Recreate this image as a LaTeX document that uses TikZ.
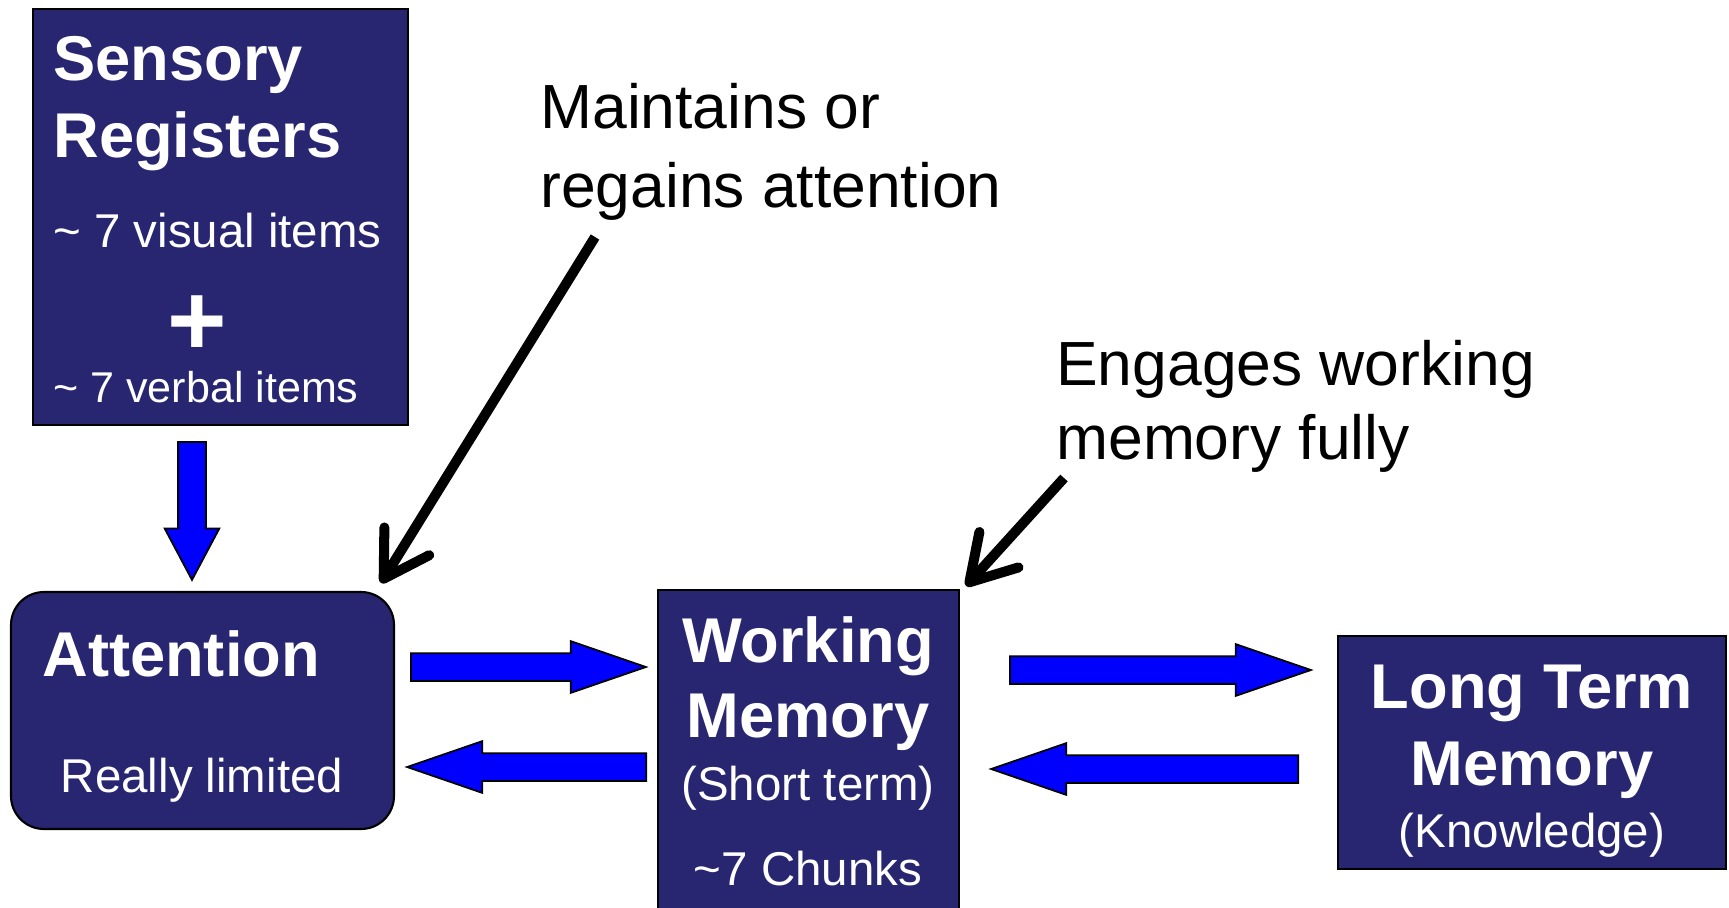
\documentclass[tikz,border=0pt]{standalone}
\usepackage{fontspec}
\setmainfont{Liberation Sans}
\usetikzlibrary{shapes.arrows,arrows.meta,calc}
\definecolor{boxnavy}{RGB}{40,38,112}
\definecolor{flowblue}{RGB}{0,0,255}
\tikzset{
  membox/.style={draw=black, line width=1.2pt, fill=boxnavy, inner sep=0pt},
  title/.style={text=white, font=\fontsize{36}{42}\selectfont\bfseries, inner sep=0pt},
  note/.style={text=white, font=\fontsize{27}{32}\selectfont, inner sep=0pt},
  remark/.style={text=black, font=\fontsize{35.5}{41}\selectfont, inner sep=0pt, anchor=base west},
  flow/.style={single arrow, draw=black, line width=1pt, fill=flowblue, anchor=tail,
    inner sep=2.6mm, single arrow head extend=2.4mm,
    single arrow tip angle=38, single arrow head indent=0pt},
  pointer/.style={line width=5.7pt, -{Straight Barb[length=25pt, width=30pt, round]}}
}
\begin{document}
\begin{tikzpicture}[x=0.2mm, y=-0.2mm]
\useasboundingbox (0,0) rectangle (1729,907);

% boxes
\node[membox, minimum width=75mm, minimum height=83.2mm] (sens) at (220.5,217) {};
\node[membox, rounded corners=6.6mm, minimum width=76.6mm, minimum height=47.4mm] (att) at (202.5,710.5) {};
\node[membox, minimum width=60.2mm, minimum height=68mm] (wm) at (808.5,760) {};
\node[membox, minimum width=77.6mm, minimum height=46.6mm] (ltm) at (1532,752.5) {};

% box texts
\node[title, anchor=base west] (sens1) at (53,80) {Sensory};
\node[title, anchor=base west] (sens2) at (53,157) {Registers};
\node[note, anchor=base west] (sens3) at (53,247) {\char`\~{} 7 visual items};
\node[text=white, font=\fontsize{58}{58}\selectfont\bfseries, inner sep=0pt, anchor=base] (plus) at (197,355) {+};
\node[note, font=\fontsize{24.5}{30}\selectfont, anchor=base west] (sens4) at (53,402) {\char`\~{} 7 verbal items};

\node[title, anchor=base west] (att1) at (42,676) {Attention};
\node[note, anchor=base] (att2) at (202,792) {Really limited};

\node[title, anchor=base] (wm1) at (808,662) {Working};
\node[title, anchor=base] (wm2) at (808,737) {Memory};
\node[note, anchor=base] (wm3) at (808,800) {(Short term)};
\node[note, anchor=base] (wm4) at (808,885) {\char`\~7 Chunks};

\node[title, anchor=base] (ltm1) at (1532,708) {Long Term};
\node[title, anchor=base] (ltm2) at (1532,785) {Memory};
\node[note, anchor=base] (ltm3) at (1532,847) {(Knowledge)};

% flow arrows
\node[flow, minimum height=27.6mm, rotate=-90, single arrow head extend=2.7mm, single arrow tip angle=56] (senstoatt) at (192,441) {};
\node[flow, minimum height=47mm] (atttowm) at (410,667) {};
\node[flow, minimum height=47.8mm, rotate=180] (wmtoatt) at (647,767) {};
\node[flow, minimum height=60.2mm] (wmtoltm) at (1009,670) {};
\node[flow, minimum height=61.4mm, rotate=180] (ltmtowm) at (1299,769) {};

% remarks
\node[remark] (main1) at (540,128) {Maintains or};
\node[remark] (main2) at (540,207) {regains attention};
\node[remark] (eng1) at (1056,385) {Engages working};
\node[remark] (eng2) at (1056,459) {memory fully};

\coordinate (maintail) at (595,237);
\coordinate (engtail) at (1064,478);
\draw[pointer] (maintail) -- ($(att.north east)+(-14,-8)$);
\draw[pointer] (engtail) -- ($(wm.north east)+(6,-3)$);
\end{tikzpicture}
\end{document}
